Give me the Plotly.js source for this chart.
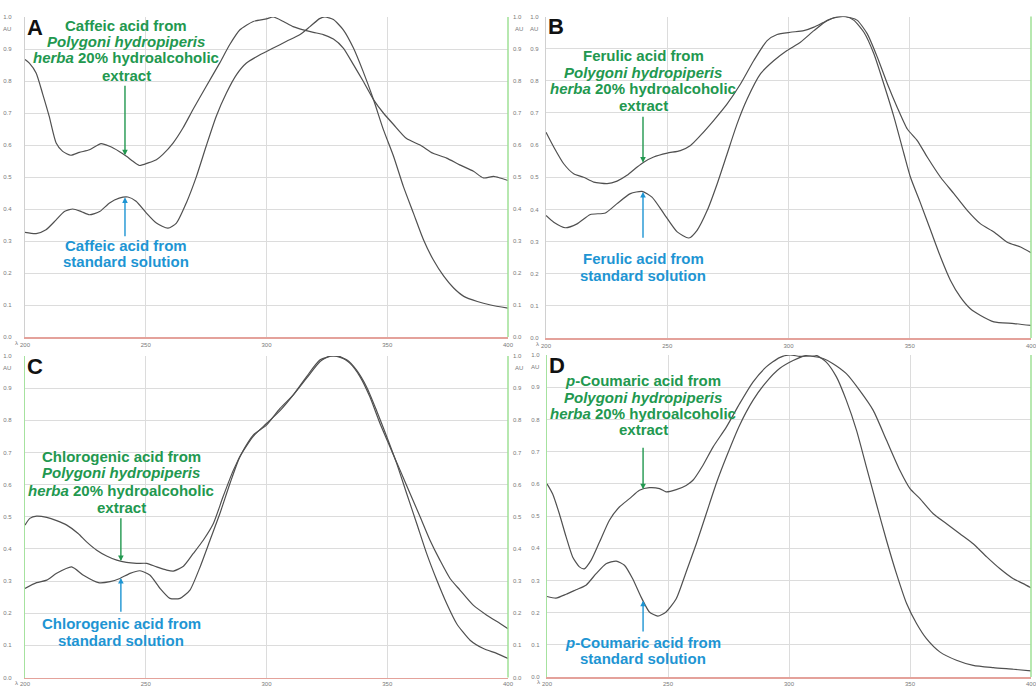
<!DOCTYPE html>
<html>
<head>
<meta charset="utf-8">
<script src="https://cdn.plot.ly/plotly-3.0.1.min.js"></script>
<style>html,body{margin:0;padding:0;background:#fff}#chart{width:1036px;height:686px}</style>
</head>
<body>
<div id="chart"></div>
<script>
// ---------------- DATA ----------------
const xTickVals = [200, 250, 300, 350, 400];
const xTickText = ['200', '250', '300', '350', '400'];
const yTickVals = [0, 0.1, 0.2, 0.3, 0.4, 0.5, 0.6, 0.7, 0.8, 0.9, 1.0];

// Panel A – caffeic acid
const aExtX = [200,201.8,204.6,207.3,210,212.9,215.6,219,222.5,226.7,231.5,235,239,242,244.7,247.4,251,254.4,257,261.3,265.4,269.5,275,280.6,284.8,289,294.5,300,302.8,307,311,315.2,319.4,323.5,327.7,331.8,336,340,344.3,348.4,352.6,358,363.6,369,374.6,380,385.7,389.8,394,396.7,400];
const aExtY = [0.867,0.856,0.825,0.76,0.69,0.606,0.58,0.568,0.577,0.585,0.604,0.596,0.58,0.565,0.549,0.536,0.544,0.554,0.57,0.606,0.653,0.71,0.783,0.856,0.914,0.96,0.986,0.994,1.0,0.986,0.97,0.96,0.952,0.945,0.931,0.903,0.851,0.8,0.742,0.70,0.664,0.62,0.6,0.574,0.559,0.538,0.518,0.497,0.502,0.497,0.489];
const aStdX = [200,204.6,208.7,212.9,216.3,219.8,223.3,226.7,230.9,235,239,242.6,246,250.2,254.4,259.2,262.7,266.8,271,275,279.2,283.4,287.6,291.7,297.3,302.8,308.3,313.9,318,322,324.2,327.7,331.8,336,340,344.3,348.4,352.6,356.7,360.8,365,369,373.4,377.5,381.7,387.3,392.8,400];
const aStdY = [0.327,0.323,0.335,0.366,0.392,0.4,0.392,0.382,0.392,0.419,0.434,0.4375,0.424,0.388,0.356,0.34,0.356,0.419,0.502,0.596,0.69,0.7625,0.82,0.856,0.882,0.903,0.924,0.945,0.97,0.995,1.0,0.992,0.96,0.903,0.83,0.742,0.648,0.565,0.47,0.388,0.304,0.242,0.19,0.153,0.127,0.111,0.1,0.09];

// Panel B – ferulic acid
const bExtX = [200,203.2,207.3,211.4,215.5,219.7,225.2,229.3,233.4,237.6,240.3,244.4,250,255.4,259.6,263.7,269.2,274.7,280.2,285.7,291.2,295.3,300.8,306.3,310.5,314.6,318.7,322.2,325.6,328.4,332.5,336.6,340.8,344.8,349,353.1,357.2,362.7,368.2,373.7,379.2,384.7,390.2,395.7,400];
const bExtY = [0.64,0.594,0.542,0.511,0.5,0.485,0.48,0.488,0.506,0.532,0.547,0.563,0.575,0.583,0.599,0.63,0.677,0.728,0.79,0.863,0.925,0.944,0.951,0.956,0.967,0.982,0.996,1.0,0.996,0.988,0.946,0.874,0.79,0.718,0.65,0.614,0.563,0.5,0.449,0.397,0.355,0.33,0.298,0.283,0.265];
const bStdX = [200,203.2,208,212.8,218.3,224.5,229.3,234.8,239.6,243.7,248.6,254.1,258.9,262.3,266.5,270.6,274.7,278.8,283,288.5,294,299.4,304.9,310.5,316,320,323.5,327,331.1,335.2,339.3,343.5,347.6,350.3,354.5,358.6,362.7,366.8,370.9,375,379.2,384.7,393,400];
const bStdY = [0.381,0.36,0.343,0.355,0.384,0.389,0.418,0.449,0.456,0.438,0.387,0.33,0.311,0.335,0.397,0.48,0.573,0.666,0.744,0.822,0.863,0.894,0.92,0.956,0.988,0.998,1.0,0.988,0.951,0.884,0.79,0.687,0.573,0.5,0.418,0.335,0.252,0.179,0.127,0.091,0.07,0.05,0.045,0.039];

// Panel C – chlorogenic acid
const cExtX = [200,202,204.8,209,213.1,217.3,222,225.5,229.7,233.8,238,242,246.2,250.4,254.5,258.7,261.4,265.6,269.7,273.8,278,282,286.3,290.4,294.5,300,305.6,311.1,316.6,322.2,326.3,330.4,334.6,338.7,342.8,347,351.1,355.3,359.4,363.6,367.7,371.8,376,380.1,385.6,391.2,396.7,400];
const cExtY = [0.474,0.495,0.502,0.498,0.488,0.474,0.448,0.422,0.396,0.378,0.365,0.358,0.355,0.355,0.344,0.334,0.331,0.346,0.386,0.427,0.479,0.562,0.645,0.707,0.754,0.785,0.837,0.879,0.931,0.983,1.0,0.998,0.977,0.936,0.873,0.79,0.718,0.645,0.573,0.5,0.427,0.365,0.308,0.272,0.225,0.194,0.168,0.152];
const cStdX = [200,204.8,209,213.1,219.3,224.2,230.4,235.2,239.3,243.5,247.6,251.8,255.9,260,264.2,268.3,272.5,276.6,280.7,284.9,289,294.5,300,305.6,311.1,316.6,322.2,327.7,333.2,337.3,341.5,345.6,349.8,353.9,358,362.2,366.3,370.5,374.6,378.7,384.3,389.8,395.3,400];
const cStdY = [0.277,0.295,0.303,0.324,0.344,0.318,0.295,0.298,0.308,0.324,0.332,0.318,0.277,0.246,0.246,0.272,0.344,0.427,0.51,0.604,0.687,0.75,0.79,0.83,0.879,0.936,0.988,1.0,0.988,0.956,0.903,0.83,0.749,0.666,0.573,0.479,0.386,0.303,0.23,0.168,0.116,0.09,0.075,0.059];

// Panel D – p-coumaric acid
const dExtX = [200,202.3,205.1,207.9,210.6,213.4,215.4,218.2,221.7,225.8,229.9,234.1,238.2,242.3,246.5,249.2,253.4,257.5,260.3,264.4,268.6,274.1,279.6,285.1,290.6,296.1,300.3,304.4,310,314.1,318.2,323.7,329.2,334.8,340.3,345.8,350,354.1,359.6,365.1,370.6,376.1,381.7,387.2,392.7,396.8,400];
const dExtY = [0.6,0.569,0.507,0.435,0.373,0.342,0.336,0.362,0.419,0.487,0.528,0.554,0.58,0.588,0.585,0.575,0.582,0.595,0.611,0.657,0.714,0.776,0.849,0.916,0.963,0.992,1.0,0.996,0.996,0.989,0.973,0.942,0.89,0.828,0.735,0.642,0.585,0.554,0.507,0.476,0.445,0.414,0.373,0.336,0.305,0.29,0.277];
const dStdX = [200,203.7,207.9,212,216.1,220.3,224.4,228.6,232,235.4,238.9,242.3,245.8,249.2,253.4,257.5,261.7,265.8,269.9,274.1,279.6,285.1,290.6,296.1,301.7,307.2,311.3,315.4,319.6,323.7,327.9,332,336.1,340.3,344.4,348.6,352.7,356.8,362.3,369.2,376.1,384.4,392.7,400];
const dStdY = [0.25,0.245,0.257,0.271,0.285,0.321,0.352,0.36,0.347,0.305,0.248,0.202,0.189,0.202,0.243,0.326,0.414,0.507,0.6,0.683,0.782,0.859,0.916,0.958,0.983,0.999,0.999,0.978,0.932,0.859,0.766,0.652,0.538,0.424,0.321,0.228,0.166,0.119,0.078,0.052,0.036,0.029,0.024,0.019];

// Label texts
const panelLetters = ['A', 'B', 'C', 'D'];
const extLabels = [
  ['Caffeic acid from', '<i>Polygoni hydropiperis</i>', '<i>herba</i> 20% hydroalcoholic', 'extract'],
  ['Ferulic acid from', '<i>Polygoni hydropiperis</i>', '<i>herba</i> 20% hydroalcoholic', 'extract'],
  ['Chlorogenic acid from', '<i>Polygoni hydropiperis</i>', '<i>herba</i> 20% hydroalcoholic', 'extract'],
  ['<i>p</i>-Coumaric acid from', '<i>Polygoni hydropiperis</i>', '<i>herba</i> 20% hydroalcoholic', 'extract']
];
const stdLabels = [
  ['Caffeic acid from', 'standard solution'],
  ['Ferulic acid from', 'standard solution'],
  ['Chlorogenic acid from', 'standard solution'],
  ['<i>p</i>-Coumaric acid from', 'standard solution']
];

// ---------------- LAYOUT HELPERS ----------------
const W = 1036, H = 686;
const fx = v => v / W;
const fy = v => 1 - v / H;
const GREEN = '#22984f', BLUE = '#1e95d3', CURVE = '#505050';
const FONT = 'Liberation Sans, Arial, sans-serif';

const panels = [
  {xa:'x',  ya:'y',  ext:[aExtX,aExtY], std:[aStdX,aStdY], box:[25,508,17,337],   left:'#d0d0d0', standoff:11, xso:1,
   txtX:126, extY:[25,42,58,75], stdY:[245,261], arrowX:241.4, extTail:0.79, stdTail:0.31},
  {xa:'x2', ya:'y2', ext:[bExtX,bExtY], std:[bStdX,bStdY], box:[546,1031,16.5,338], left:'#d0d0d0', standoff:5, xso:1,
   txtX:643, extY:[55,72,88,105], stdY:[258,275], arrowX:240, extTail:0.693, stdTail:0.307},
  {xa:'x3', ya:'y3', ext:[cExtX,cExtY], std:[cStdX,cStdY], box:[25,508,356,677.5], left:'#a6e29f', standoff:11, xso:0,
   txtX:121, extY:[457,473,490,507], stdY:[623,640], arrowX:239.7, extTail:0.5, stdTail:0.2},
  {xa:'x4', ya:'y4', ext:[dExtX,dExtY], std:[dStdX,dStdY], box:[547,1031,355,677], left:'#a6e29f', standoff:5, xso:0,
   txtX:643, extY:[380,397,413,430], stdY:[642,658], arrowX:239.7, extTail:0.717, stdTail:0.137}
];

function interp(xs, ys, x) {
  for (let i = 0; i < xs.length - 1; i++) {
    if (x >= xs[i] && x <= xs[i+1]) {
      const t = (x - xs[i]) / (xs[i+1] - xs[i]);
      return ys[i] + t * (ys[i+1] - ys[i]);
    }
  }
  return ys[ys.length - 1];
}

const traces = [];
const layout = {
  width: W, height: H, autosize: false,
  margin: {l:0, r:0, t:0, b:0, pad:0},
  paper_bgcolor: '#fff', plot_bgcolor: '#fff',
  showlegend: false,
  font: {family: FONT},
  annotations: [], shapes: []
};

const tickFont = {family: FONT, size: 6, color: '#7a7a7a'};

panels.forEach((p, i) => {
  const n = i === 0 ? '' : String(i + 1);
  const [x0, x1, y0, y1] = p.box;
  [p.ext, p.std].forEach(s => traces.push({
    x: s[0], y: s[1], xaxis: p.xa, yaxis: p.ya, type: 'scatter', mode: 'lines',
    line: {color: CURVE, width: 1.2, shape: 'spline', smoothing: 0.6}, hoverinfo: 'skip'
  }));
  layout['xaxis' + n] = {
    domain: [fx(x0), fx(x1)], anchor: p.ya, range: [200, 400],
    tickvals: xTickVals, ticktext: xTickText, ticks: '', tickfont: tickFont,
    showgrid: true, gridcolor: '#dcdcdc', gridwidth: 1, zeroline: false,
    showline: true, linecolor: '#e4a29b', linewidth: 1.5, ticklabelstandoff: p.xso,
    ticklabeloverflow: 'allow'
  };
  layout['yaxis' + n] = {
    domain: [fy(y1), fy(y0)], anchor: p.xa, range: [0, 1],
    tickvals: yTickVals, tickformat: '.1f', ticks: '', tickfont: tickFont,
    showgrid: true, gridcolor: '#dcdcdc', gridwidth: 1, zeroline: false,
    showline: true, linecolor: p.left, linewidth: 1.2, ticklabelstandoff: p.standoff,
    ticklabeloverflow: 'allow'
  };
  // right border (green)
  layout.shapes.push({type:'line', xref: p.xa + ' domain', yref: p.ya + ' domain',
    x0: 1, x1: 1, y0: 0, y1: 1, line: {color: '#9fe196', width: 1.5}});
  // panel letter
  layout.annotations.push({xref:'paper', yref:'paper', x: fx(x0 + 9.5), y: fy(y0 + 10.5),
    xanchor:'center', yanchor:'middle', showarrow:false, text: '<b>' + panelLetters[i] + '</b>',
    font: {family: FONT, size: 22, color: '#111'}});
  // AU on left
  layout.annotations.push({xref:'paper', yref: p.ya, x: fx(x0 - p.standoff - 1), y: 0.962,
    xanchor:'right', yanchor:'middle', showarrow:false, text:'AU', font: tickFont});
  // lambda
  layout.annotations.push({xref:'paper', yref:'paper', x: fx(x0 - 5), y: fy(y1 + 5 + p.xso),
    xanchor:'right', yanchor:'middle', showarrow:false, text:'λ', font: tickFont});
  // extract label lines
  extLabels[i].forEach((t, k) => layout.annotations.push({xref:'paper', yref:'paper',
    x: fx(p.txtX), y: fy(p.extY[k]), xanchor:'center', yanchor:'middle', showarrow:false,
    text: '<b>' + t + '</b>', font: {family: FONT, size: 15, color: GREEN}}));
  stdLabels[i].forEach((t, k) => layout.annotations.push({xref:'paper', yref:'paper',
    x: fx(p.txtX), y: fy(p.stdY[k]), xanchor:'center', yanchor:'middle', showarrow:false,
    text: '<b>' + t + '</b>', font: {family: FONT, size: 15, color: BLUE}}));
  // arrows pointing to curves
  const eY = interp(p.ext[0], p.ext[1], p.arrowX);
  const sY = interp(p.std[0], p.std[1], p.arrowX);
  layout.annotations.push({xref: p.xa, yref: p.ya, axref: p.xa, ayref: p.ya,
    x: p.arrowX, y: eY, ax: p.arrowX, ay: p.extTail, text:'', showarrow:true,
    arrowhead: 2, arrowsize: 0.8, arrowwidth: 1.4, arrowcolor: GREEN, standoff: 0, startstandoff: 0});
  layout.annotations.push({xref: p.xa, yref: p.ya, axref: p.xa, ayref: p.ya,
    x: p.arrowX, y: sY, ax: p.arrowX, ay: p.stdTail, text:'', showarrow:true,
    arrowhead: 2, arrowsize: 0.8, arrowwidth: 1.4, arrowcolor: BLUE, standoff: 0, startstandoff: 0});
});

// Right-side tick labels for A and C
[['yaxis5','y','x',508], ['yaxis6','y3','x3',508]].forEach(([name, over, anch, xr]) => {
  layout[name] = {overlaying: over, anchor: anch, side: 'right', range: [0, 1],
    tickvals: yTickVals, tickformat: '.1f', ticks: '', tickfont: tickFont,
    showgrid: false, zeroline: false, showline: false, ticklabelstandoff: 4,
    ticklabeloverflow: 'allow'};
  layout.annotations.push({xref:'paper', yref: over, x: fx(xr + 5), y: 0.962,
    xanchor:'left', yanchor:'middle', showarrow:false, text:'AU', font: tickFont});
});
traces.push({x:[200], y:[0], xaxis:'x', yaxis:'y5', mode:'markers', marker:{opacity:0}, hoverinfo:'skip'});
traces.push({x:[200], y:[0], xaxis:'x3', yaxis:'y6', mode:'markers', marker:{opacity:0}, hoverinfo:'skip'});

Plotly.newPlot('chart', traces, layout, {staticPlot: true, displayModeBar: false});
</script>
</body>
</html>
